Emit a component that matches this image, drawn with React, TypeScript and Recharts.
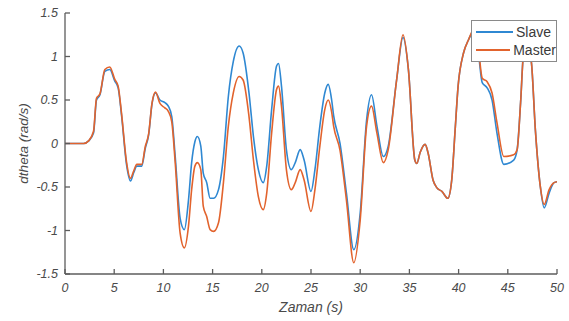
import React from 'react';
import { LineChart, Line, XAxis, YAxis } from 'recharts';

const times = [0, 1, 1.9, 2.4, 2.9, 3.2, 3.55, 4.05, 4.55, 5.05, 5.4, 5.75, 6.25, 6.65, 7.0, 7.3, 7.8, 8.15, 8.5, 8.85, 9.2, 9.65, 10.15, 10.5, 10.85, 11.2, 11.7, 12.13, 12.55, 12.87, 13.2, 13.45, 13.8, 14.05, 14.4, 14.75, 15.1, 15.6, 16.1, 16.6, 17.1, 17.7, 18.1, 18.7, 19.15, 19.65, 20.15, 20.5, 21.0, 21.5, 21.7, 22.0, 22.5, 23.0, 23.4, 23.9, 24.3, 25.0, 25.4, 25.9, 26.4, 26.75, 27.1, 27.3, 27.95, 28.6, 29.35, 30.0, 30.65, 31.15, 31.7, 32.35, 32.85, 33.7, 34.35, 34.9, 35.55, 35.75, 36.1, 36.6, 36.9, 37.4, 37.8, 38.3, 38.9, 39.3, 39.65, 39.95, 40.5, 41.0, 41.5, 42.0, 42.4, 42.9, 43.4, 43.9, 44.6, 45.6, 45.95, 46.3, 46.6, 46.95, 47.4, 47.8, 48.3, 48.7, 49.2, 49.7, 50];

const slave = [0, 0, 0, 0.03, 0.12, 0.5, 0.56, 0.83, 0.85, 0.72, 0.64, 0.32, -0.24, -0.43, -0.33, -0.26, -0.26, -0.06, 0.1, 0.46, 0.58, 0.5, 0.47, 0.43, 0.31, -0.15, -0.86, -0.99, -0.65, -0.22, 0.02, 0.08, -0.03, -0.34, -0.45, -0.63, -0.63, -0.53, -0.15, 0.54, 0.94, 1.12, 1.04, 0.58, 0.08, -0.3, -0.45, -0.26, 0.39, 0.89, 0.92, 0.66, -0.07, -0.3, -0.22, -0.07, -0.19, -0.55, -0.3, 0.2, 0.58, 0.68, 0.5, 0.32, 0.0, -0.57, -1.22, -0.8, 0.27, 0.56, 0.2, -0.15, -0.03, 0.73, 1.22, 0.85, -0.19, -0.23, -0.1, -0.01, -0.11, -0.42, -0.51, -0.55, -0.63, -0.42, 0.16, 0.66, 1.04, 1.19, 1.28, 1.05, 0.7, 0.64, 0.5, 0.12, -0.24, -0.19, -0.07, 0.47, 1.04, 1.15, 0.93, 0.16, -0.49, -0.74, -0.57, -0.45, -0.44];

const master = [0, 0, 0, 0.03, 0.14, 0.52, 0.57, 0.85, 0.88, 0.74, 0.66, 0.34, -0.21, -0.4, -0.31, -0.24, -0.24, -0.04, 0.11, 0.47, 0.59, 0.46, 0.41, 0.37, 0.25, -0.22, -1.03, -1.2, -0.95, -0.53, -0.26, -0.22, -0.3, -0.72, -0.84, -0.99, -1.01, -0.91, -0.45, 0.2, 0.58, 0.77, 0.73, 0.31, -0.19, -0.61, -0.76, -0.57, 0.12, 0.62, 0.66, 0.43, -0.3, -0.53, -0.45, -0.3, -0.42, -0.78, -0.53, -0.03, 0.39, 0.5, 0.36, 0.2, -0.08, -0.65, -1.37, -0.88, 0.2, 0.43, 0.12, -0.22, -0.07, 0.73, 1.25, 0.85, -0.19, -0.23, -0.1, -0.01, -0.11, -0.42, -0.51, -0.55, -0.63, -0.42, 0.16, 0.66, 1.04, 1.19, 1.3, 1.1, 0.75, 0.71, 0.58, 0.24, -0.15, -0.13, -0.07, 0.47, 1.04, 1.15, 0.93, 0.16, -0.49, -0.7, -0.53, -0.45, -0.44];

const xTicks = [0, 5, 10, 15, 20, 25, 30, 35, 40, 45, 50];
const yTicks = [-1.5, -1, -0.5, 0, 0.5, 1, 1.5];

const seriesNames = { slave: 'Slave', master: 'Master' };
const xLabel = 'Zaman (s)';
const yLabel = 'dtheta (rad/s)';

const data = times.map((t, i) => ({ t, slave: slave[i], master: master[i] }));

const BLUE = '#2F88D2';
const ORANGE = '#E2632D';
const AXIS = '#5c5c5c';
const TEXT = '#4a4a4a';
const FONT = 'Liberation Sans, Arial, sans-serif';

const YLabel = (props: any) => {
  const vb = props.viewBox || {};
  const x = (vb.x || 0) + 23;
  const y = (vb.y || 0) + (vb.height || 0) / 2;
  return (
    <text x={x} y={y} transform={`rotate(-90, ${x}, ${y})`} textAnchor="middle" dominantBaseline="central"
      fontFamily={FONT} fontStyle="italic" fontSize={13.5} fill={TEXT}>{yLabel}</text>
  );
};

const XLabel = (props: any) => {
  const vb = props.viewBox || {};
  const x = (vb.x || 0) + (vb.width || 0) / 2;
  const y = (vb.y || 0) + 33;
  return (
    <text x={x} y={y} textAnchor="middle" dominantBaseline="central"
      fontFamily={FONT} fontStyle="italic" fontSize={14} fill={TEXT}>{xLabel}</text>
  );
};

const LegendBox = () => (
  <div style={{ position: 'absolute', left: 471, top: 20, border: '1px solid #8a8a8a', background: '#fff', width: 86, height: 42, boxSizing: 'border-box', padding: '2px 0 0 4px', fontFamily: FONT, fontSize: 14, color: '#3a3a3a' }}>
    {[{ c: BLUE, n: seriesNames.slave }, { c: ORANGE, n: seriesNames.master }].map((r) => (
      <div key={r.n} style={{ display: 'flex', alignItems: 'center', height: 18 }}>
        <div style={{ width: 37, height: 0, borderTop: `2px solid ${r.c}`, marginRight: 3 }} />
        <span>{r.n}</span>
      </div>
    ))}
  </div>
);

export default function App() {
  return (
    <div style={{ position: 'absolute', left: 0, top: 0, width: 569, height: 321, background: '#fff' }}>
      <LineChart width={569} height={321} data={data} margin={{ top: 13, right: 12, bottom: 0, left: 0 }}>
        <XAxis dataKey="t" type="number" domain={[0, 50]} ticks={xTicks} allowDataOverflow
          axisLine={{ stroke: AXIS, strokeWidth: 1.3 }} tickLine={{ stroke: AXIS, strokeWidth: 1.3 }}
          tickSize={-5} tickMargin={14} height={47}
          tick={{ fill: TEXT, fontSize: 12.5, fontStyle: 'italic', fontFamily: FONT }}
          label={<XLabel />} />
        <YAxis type="number" domain={[-1.5, 1.5]} ticks={yTicks} allowDataOverflow width={65}
          axisLine={{ stroke: AXIS, strokeWidth: 1.3 }} tickLine={{ stroke: AXIS, strokeWidth: 1.3 }}
          tickSize={-5} tickMargin={12}
          tick={{ fill: TEXT, fontSize: 12.5, fontStyle: 'italic', fontFamily: FONT }}
          label={<YLabel />} />
        <Line type="monotone" dataKey="slave" stroke={BLUE} strokeWidth={1.6} dot={false} isAnimationActive={false} />
        <Line type="monotone" dataKey="master" stroke={ORANGE} strokeWidth={1.6} dot={false} isAnimationActive={false} />
      </LineChart>
      <LegendBox />
    </div>
  );
}
